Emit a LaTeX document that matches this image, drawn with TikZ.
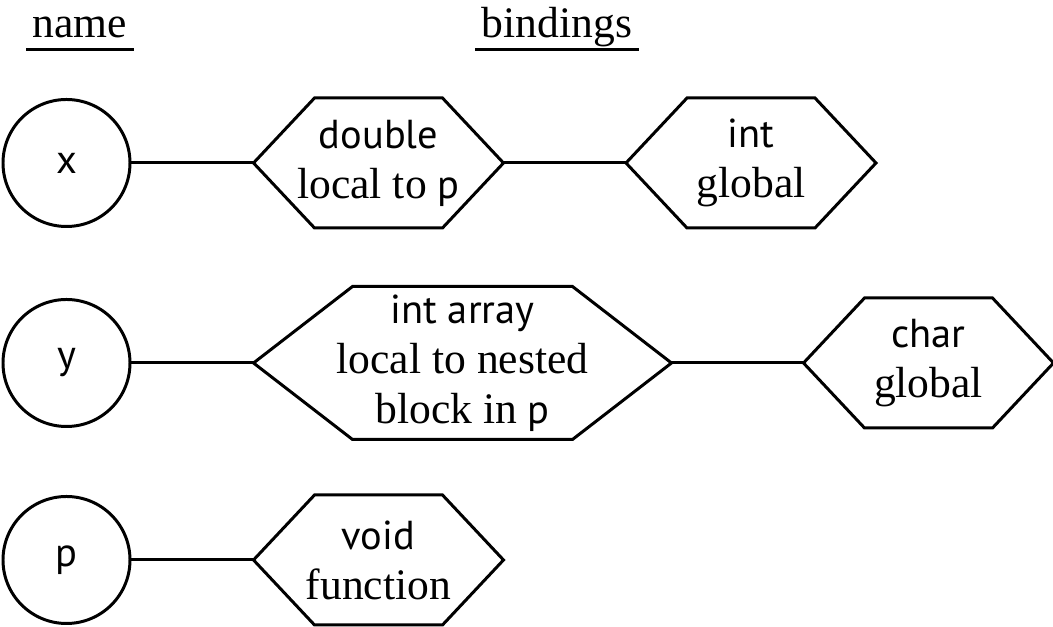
\documentclass[tikz,border=0pt]{standalone}
\usepackage{fontspec}
\setmainfont{Liberation Serif}
\setsansfont{PT Sans}
\newcommand{\tname}[1]{{\fontsize{11.5}{14.2}\selectfont\sffamily #1}}

\begin{document}
\begin{tikzpicture}[line width=0.85pt,
    every node/.style={font=\fontsize{12.4}{14.2}\selectfont},
    namecirc/.style={circle, draw, minimum size=1.27cm, inner sep=0pt, font=\fontsize{11.5}{12}\selectfont\sffamily},
    hexbox/.style={inner sep=0pt, align=center, minimum width=2.47cm, minimum height=1.27cm},
    bighexbox/.style={hexbox, minimum width=4.15cm, minimum height=1.50cm},
    head/.style={anchor=base, inner xsep=0.05cm}]

  \useasboundingbox (0,0) rectangle (10.53,6.27);

  % column headings
  \node [head] (hname) at (0.80,5.89) {name};
  \node [head] (hbind) at (5.57,5.89) {bindings};
  \foreach \h in {hname,hbind} {
    \draw ([yshift=-0.12cm]\h.base west) -- ([yshift=-0.12cm]\h.base east);
  }

  % names
  \node [namecirc] (x) at (0.665,4.64) {x};
  \node [namecirc] (y) at (0.665,2.64) {y};
  \node [namecirc] (p) at (0.665,0.67) {p};

  % bindings
  \node [hexbox] (xa) at (3.785,4.64) {\tname{double}\\ local to \tname{p}};
  \node [hexbox] (xb) at (7.51,4.64) {\tname{int}\\ global};
  \node [bighexbox] (ya) at (4.625,2.64) {\tname{int array}\\ local to nested\\ block in \tname{p}};
  \node [hexbox] (yb) at (9.285,2.64) {\tname{char}\\ global};
  \node [hexbox] (pa) at (3.785,0.67) {\tname{void}\\ function};
  \foreach \n/\d in {xa/0.61,xb/0.61,ya/0.99,yb/0.61,pa/0.61} {
    \draw (\n.west) -- ([xshift=\d cm]\n.north west) -- ([xshift=-\d cm]\n.north east)
      -- (\n.east) -- ([xshift=-\d cm]\n.south east) -- ([xshift=\d cm]\n.south west) -- cycle;
  }

  \draw (x.east) -- (xa.west);
  \draw (xa.east) -- (xb.west);
  \draw (y.east) -- (ya.west);
  \draw (ya.east) -- (yb.west);
  \draw (p.east) -- (pa.west);
\end{tikzpicture}
\end{document}
